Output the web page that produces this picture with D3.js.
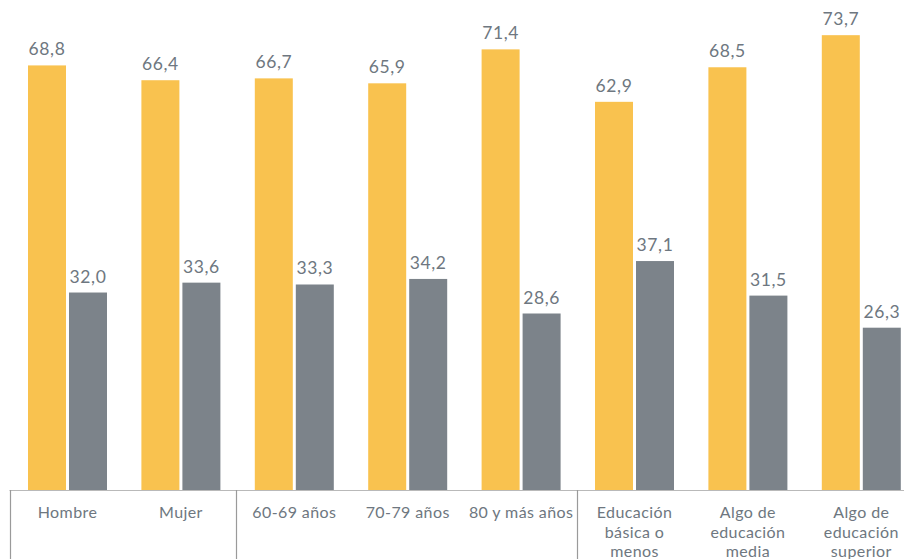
<!DOCTYPE html>
<html>
<head>
<meta charset="utf-8">
<script src="https://cdn.jsdelivr.net/npm/d3@7"></script>
<style>
  html, body { margin: 0; padding: 0; background: #fff; }
  svg { display: block; }
  text { font-family: Lato, "Open Sans", sans-serif; fill: #6e7780; }
</style>
</head>
<body>
<svg id="chart" width="904" height="559"></svg>
<script>
// Categories (each label split into its display lines)
const categories = [
  ["Hombre"],
  ["Mujer"],
  ["60-69 años"],
  ["70-79 años"],
  ["80 y más años"],
  ["Educación", "básica o", "menos"],
  ["Algo de", "educación", "media"],
  ["Algo de", "educación", "superior"]
];
// Series values (%)
const seriesA = [68.8, 66.4, 66.7, 65.9, 71.4, 62.9, 68.5, 73.7];
const seriesB = [32.0, 33.6, 33.3, 34.2, 28.6, 37.1, 31.5, 26.3];
// Group boundaries marked on the axis (after these category indexes)
const dividers = [0, 2, 5];

const colorA = "#f9c24f";
const colorB = "#7c838a";

const svg = d3.select("#chart");
const baseY = 490;

const keys = categories.map((c, i) => i);
const x0 = d3.scaleBand().domain(keys).range([9.5, 916.7]).paddingInner(0).paddingOuter(0);
const y = d3.scaleLinear().domain([0, 79.4]).range([baseY, 0]);

const groupCenter = i => x0(i) + 58;
const x1 = d3.scaleBand().domain(["a", "b"]).range([-39.5, 39.5]).paddingInner(3 / 41).paddingOuter(0);

const data = keys.map(i => ({ i, a: seriesA[i], b: seriesB[i] }));

const groups = svg.append("g").selectAll("g")
  .data(data)
  .join("g")
  .attr("transform", d => `translate(${groupCenter(d.i)},0)`);

const fmt = v => d3.format(".1f")(v).replace(".", ",");

[["a", colorA], ["b", colorB]].forEach(([k, col]) => {
  groups.append("rect")
    .attr("x", x1(k))
    .attr("width", x1.bandwidth())
    .attr("y", d => y(d[k]))
    .attr("height", d => baseY - y(d[k]))
    .attr("fill", col);
  groups.append("text")
    .attr("x", x1(k) + x1.bandwidth() / 2)
    .attr("y", d => y(d[k]) - 10)
    .attr("text-anchor", "middle")
    .attr("font-size", 17.5)
    .attr("letter-spacing", 0.6)
    .text(d => fmt(d[k]));
});

// Axis baseline and group dividers
svg.append("line")
  .attr("x1", x0(0)).attr("x2", 904)
  .attr("y1", baseY + 0.5).attr("y2", baseY + 0.5)
  .attr("stroke", "#b9b9b9").attr("stroke-width", 1.2);

svg.append("g").selectAll("line")
  .data(dividers)
  .join("line")
  .attr("x1", d => Math.round(x0(d)) + 0.5)
  .attr("x2", d => Math.round(x0(d)) + 0.5)
  .attr("y1", baseY)
  .attr("y2", 559)
  .attr("stroke", "#9a9a9a").attr("stroke-width", 1.2);

// Category labels
const labels = svg.append("g").selectAll("text")
  .data(data)
  .join("text")
  .attr("x", d => groupCenter(d.i))
  .attr("y", 518)
  .attr("text-anchor", "middle")
  .attr("font-size", 16)
  .attr("letter-spacing", 0.4);

labels.selectAll("tspan")
  .data(d => categories[d.i].map(t => ({ t, x: groupCenter(d.i) })))
  .join("tspan")
  .attr("x", d => d.x)
  .attr("dy", (d, j) => j === 0 ? 0 : 19.5)
  .text(d => d.t);
</script>
</body>
</html>
